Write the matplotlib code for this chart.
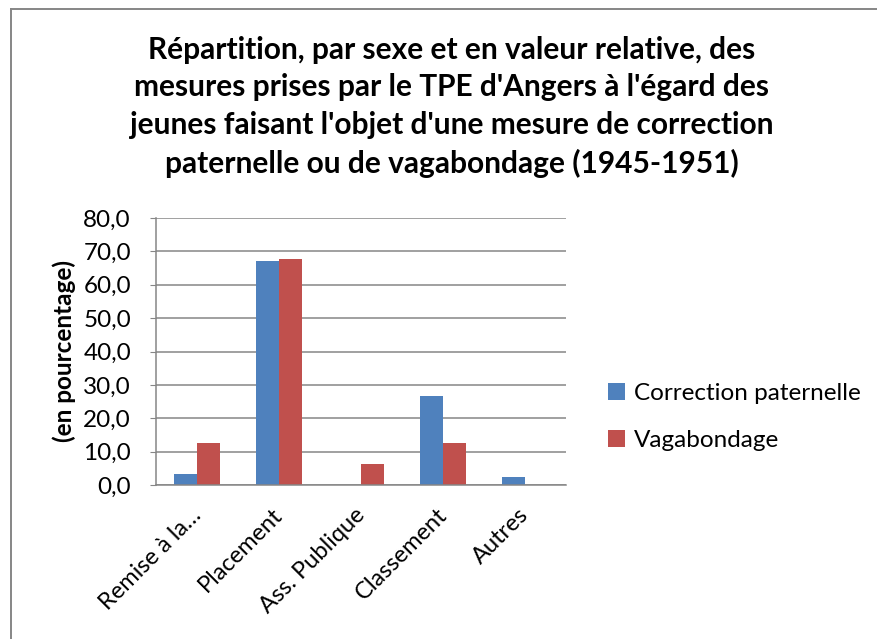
import matplotlib.pyplot as plt
import matplotlib.lines as mlines
import matplotlib.transforms as mtransforms
import numpy as np

plt.rcParams['font.family'] = ['Lato', 'DejaVu Sans']

categories = ["Remise à la…", "Placement", "Ass. Publique", "Classement", "Autres"]
correction = [3.3, 67.0, 0.0, 26.8, 2.5]
vagabondage = [12.7, 67.7, 6.3, 12.7, 0.0]
yticks = [0, 10, 20, 30, 40, 50, 60, 70, 80]

title = ("Répartition, par sexe et en valeur relative, des\n"
         "mesures prises par le TPE d'Angers à l'égard des\n"
         "jeunes faisant l'objet d'une mesure de correction\n"
         "paternelle ou de vagabondage (1945-1951)")

fig = plt.figure(figsize=(8.77, 6.39), dpi=100)
# cadre du graphique (seuls les bords gauche et haut sont visibles)
bx, by = 10.5 / 877, 1 - 8.5 / 639
fig.lines.append(mlines.Line2D([bx, bx], [0, by], transform=fig.transFigure,
                               color='#868686', linewidth=1.4))
fig.lines.append(mlines.Line2D([bx, 1], [by, by], transform=fig.transFigure,
                               color='#868686', linewidth=1.4))

ax = fig.add_axes([156 / 877, 1 - 485 / 639, 410 / 877, 267 / 639])
x = np.arange(len(categories))
w = 0.284
ax.bar(x - w / 2, correction, w, color='#4F81BD', label='Correction paternelle')
ax.bar(x + w / 2, vagabondage, w, color='#C0504D', label='Vagabondage')

ax.set_xlim(-0.5, len(categories) - 0.5)
ax.set_ylim(0, 80)
ax.set_yticks(yticks)
ax.set_yticklabels([f"{v:.1f}".replace('.', ',') for v in yticks], fontsize=17.5)
ax.yaxis.grid(True, color='#868686', linewidth=1.1)
ax.set_axisbelow(True)
for s in ['top', 'right']:
    ax.spines[s].set_visible(False)
for s in ['left', 'bottom']:
    ax.spines[s].set_color('#868686')
    ax.spines[s].set_linewidth(1.1)
ax.tick_params(axis='y', length=4, color='#868686', pad=14)
ax.tick_params(axis='x', length=0, pad=14)
ax.set_xticks(x)
ax.set_xticklabels(categories, fontsize=17, rotation=45, ha='right', va='top',
                   rotation_mode='anchor')
shift = mtransforms.ScaledTranslation(-0.07, 0, fig.dpi_scale_trans)
for lab in ax.get_xticklabels():
    lab.set_transform(lab.get_transform() + shift)

ax.set_ylabel("(en pourcentage)", fontsize=17.5, fontweight='bold')
ax.yaxis.set_label_coords(-0.195, 0.5)

fig.text(452 / 877, 1 - 107 / 639, title, ha='center', va='center',
         fontsize=21.5, fontweight='bold', linespacing=1.42)

ax.legend(loc='center left', bbox_to_anchor=(1.05, 0.255), frameon=False,
          fontsize=17.5, handlelength=0.7, handleheight=0.7, handletextpad=0.35,
          labelspacing=1.1)

fig.savefig('out.png', dpi=100)
